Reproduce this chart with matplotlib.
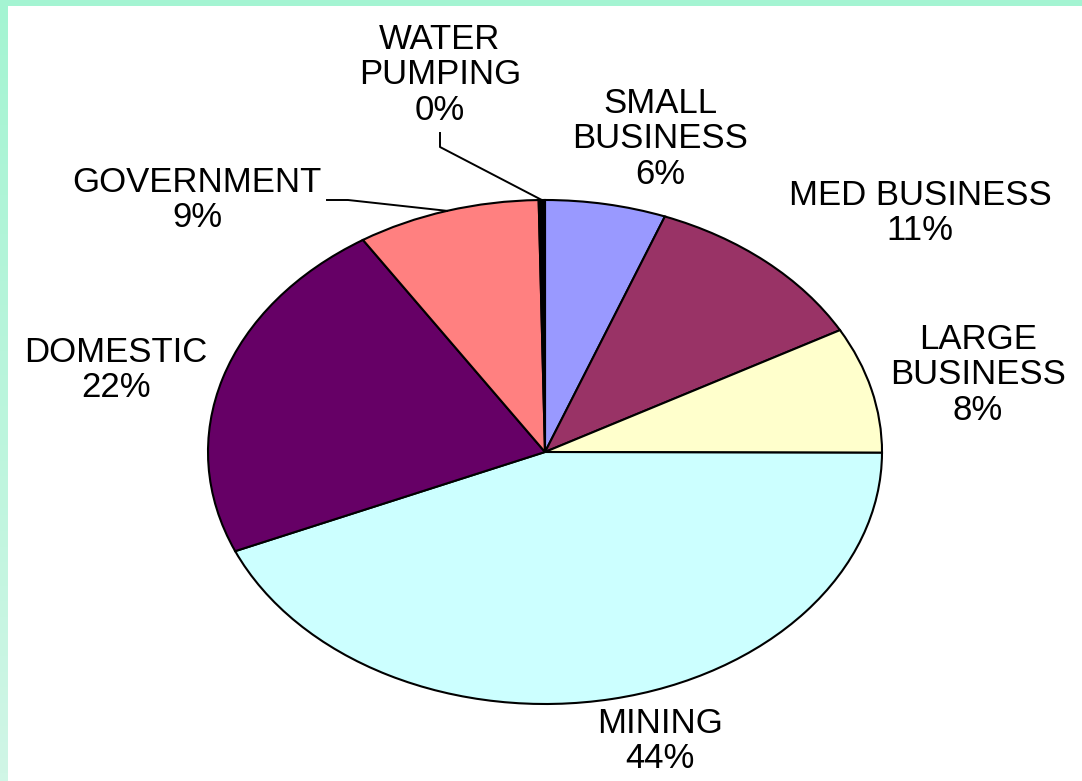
import numpy as np
import matplotlib.pyplot as plt
from matplotlib.colors import LinearSegmentedColormap
from matplotlib.patches import Rectangle

labels = ['SMALL\nBUSINESS', 'MED BUSINESS', 'LARGE\nBUSINESS', 'MINING',
          'DOMESTIC', 'GOVERNMENT', 'WATER\nPUMPING']
values = [5.8, 11.2, 8.1, 43.6, 22.4, 8.8, 0.3]
colors = ['#9999FF', '#993366', '#FFFFCC', '#CCFFFF', '#660066', '#FF8080', '#000000']

W, H = 1082, 781
cx, cy, rx, ry = 545, 452, 337, 252


def to_data(px, py):
    return (px - cx) / rx, (cy - py) / ry


fig = plt.figure(figsize=(W / 100, H / 100), dpi=100)
fig.patch.set_facecolor('white')

ax = fig.add_axes([0, 0, 1, 1])
wedges, _ = ax.pie(values, colors=colors, startangle=90, counterclock=False,
                   wedgeprops=dict(edgecolor='black', linewidth=1.5))
ax.set_aspect('auto')
x0, y0 = to_data(0, H)
x1, y1 = to_data(W, 0)
ax.set_xlim(x0, x1)
ax.set_ylim(y0, y1)
ax.axis('off')

# label placement (pixel positions of text block centres)
label_pos = [(660, 139), (920, 213), (978, 375), (660, 741),
             (116, 370), (197, 200), (440, 75)]
total = sum(values)
for w, lab, v, (px, py) in zip(wedges, labels, values, label_pos):
    tx, ty = to_data(px, py)
    ax.text(tx, ty, f'{lab}\n{round(v / total * 100):.0f}%', ha='center', va='center',
            fontsize=25, family='Liberation Sans', linespacing=1.1)

# leader lines for the two small slices
for idx, elbow, start in [(6, (440, 147), (440, 133)), (5, (348, 200), (327, 200))]:
    w = wedges[idx]
    ang = np.deg2rad((w.theta1 + w.theta2) / 2)
    ex, ey = np.cos(ang), np.sin(ang)
    sx, sy = to_data(*start)
    bx, by = to_data(*elbow)
    ax.plot([sx, bx, ex], [sy, by, ey], color='black', lw=1.4)

# frame strips
grad = LinearSegmentedColormap.from_list('g', ['#A4F4D2', '#D0F6E6'])
sax = fig.add_axes([0, 0, 8 / W, 1])
sax.imshow(np.linspace(0, 1, 100).reshape(-1, 1), aspect='auto', cmap=grad)
sax.axis('off')
fig.add_artist(Rectangle((0, 1 - 6 / H), 1, 6 / H, transform=fig.transFigure,
                         color='#A4F4D2', lw=0))

plt.savefig('out.png', dpi=100)
